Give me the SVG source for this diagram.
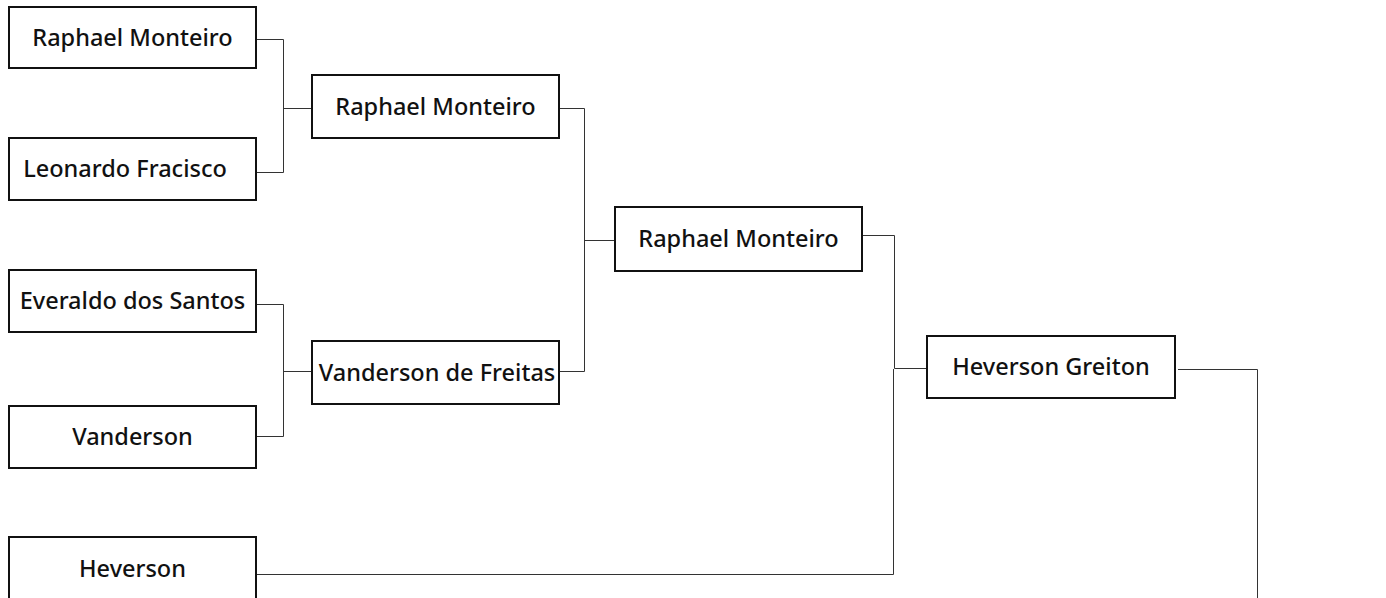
<svg xmlns="http://www.w3.org/2000/svg" width="1386" height="598" viewBox="0 0 1386 598">
<style>
.box{fill:#fff;stroke:#111;stroke-width:2}
.lbl{font-family:"Noto Sans","Open Sans","Liberation Sans",sans-serif;font-size:23.5px;font-weight:500;fill:#111;text-anchor:middle}
.con{fill:none;stroke:#333;stroke-width:1}
</style>
<rect width="1386" height="598" fill="#fff"/>
<g id="connectors">
<path class="con" d="M256,39.5H283.5V172.5H256M283.5,108.5H312"/>
<path class="con" d="M256,304.5H283.5V436.5H256M283.5,371.5H312"/>
<path class="con" d="M559,108.5H584.5V371.5H559M584.5,240.5H615"/>
<path class="con" d="M862,235.5H894.5V368.5H928"/>
<path class="con" d="M256,574.5H893.5V369"/>
<path class="con" d="M1178,369.5H1257.5V598"/>
</g>
<g id="n1"><rect class="box" x="9" y="7" width="247" height="61"/><text class="lbl" x="132.5" y="46">Raphael Monteiro</text></g>
<g id="n2"><rect class="box" x="9" y="138" width="247" height="62"/><text class="lbl" x="125" y="177">Leonardo Fracisco</text></g>
<g id="n3"><rect class="box" x="9" y="270" width="247" height="62"/><text class="lbl" x="132.5" y="309">Everaldo dos Santos</text></g>
<g id="n4"><rect class="box" x="9" y="406" width="247" height="62"/><text class="lbl" x="132.5" y="445">Vanderson</text></g>
<g id="n5"><rect class="box" x="9" y="537" width="247" height="70"/><text class="lbl" x="132.5" y="577">Heverson</text></g>
<g id="n6"><rect class="box" x="312" y="75" width="247" height="63"/><text class="lbl" x="435.5" y="115">Raphael Monteiro</text></g>
<g id="n7"><rect class="box" x="312" y="341" width="247" height="63"/><text class="lbl" x="437" y="381">Vanderson de Freitas</text></g>
<g id="n8"><rect class="box" x="615" y="207" width="247" height="64"/><text class="lbl" x="738.5" y="247">Raphael Monteiro</text></g>
<g id="n9"><rect class="box" x="927" y="336" width="248" height="62"/><text class="lbl" x="1051" y="375">Heverson Greiton</text></g>
</svg>
